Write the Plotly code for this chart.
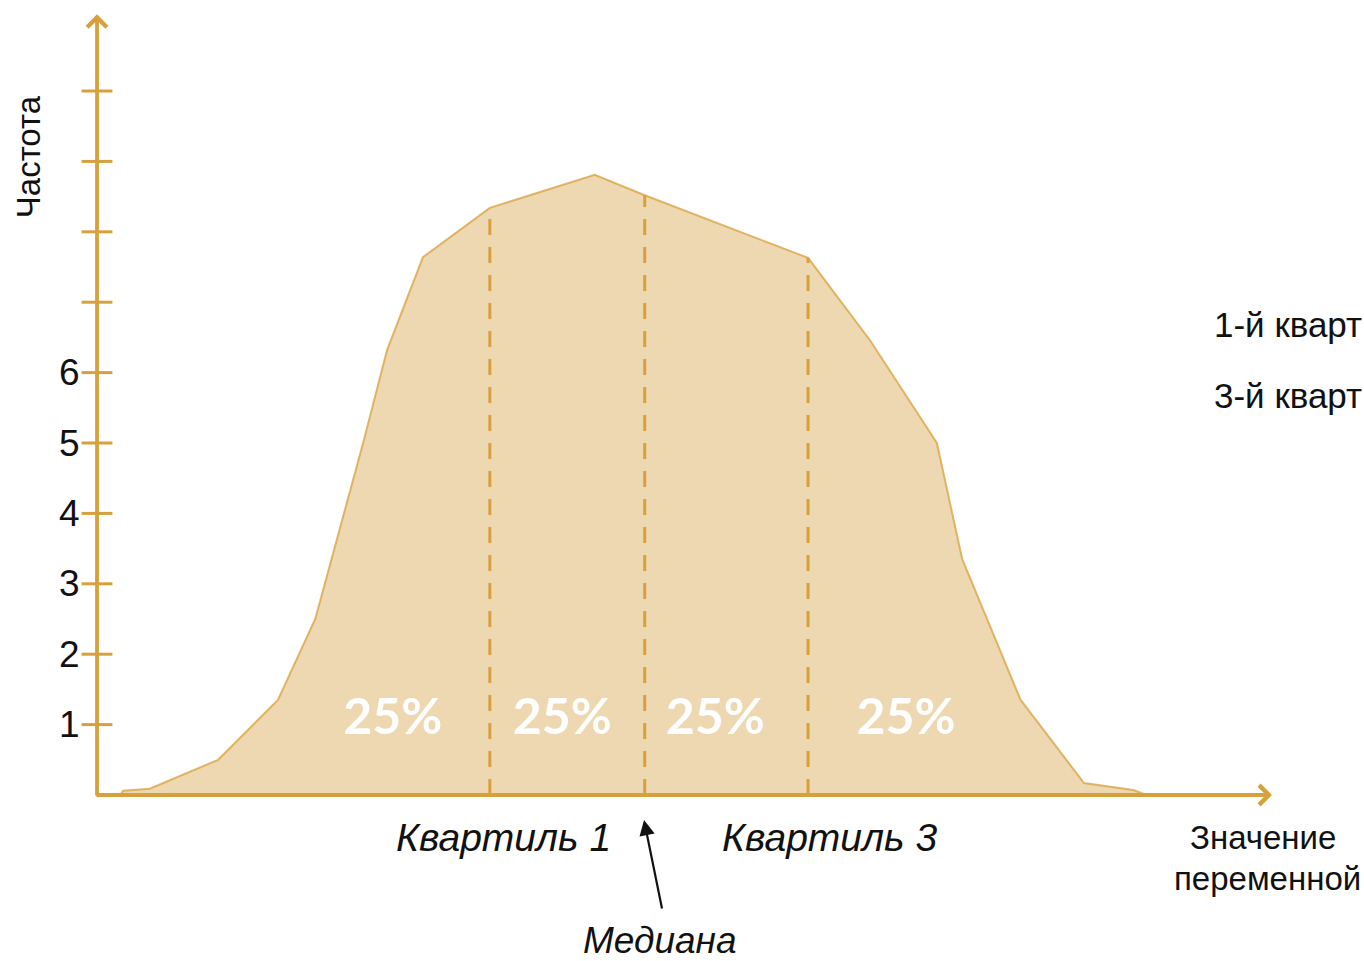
import plotly.graph_objects as go

# ---- data ----
curve_x = [0.33, 0.37, 0.75, 1.72, 2.57, 3.10, 3.78, 4.12, 4.63, 5.58, 7.07, 7.78,
           10.10, 10.98, 11.93, 12.29, 13.12, 14.02, 14.72, 14.91]
curve_y = [0.00, 0.06, 0.09, 0.50, 1.35, 2.50, 5.00, 6.32, 7.64, 8.34, 8.81, 8.52,
           7.63, 6.46, 5.00, 3.35, 1.35, 0.17, 0.07, 0.00]

quartile_x = [5.58, 7.78, 10.10]          # Q1, median, Q3
quartile_top = [8.34, 8.52, 7.63]

share_labels = ["25%", "25%", "25%", "25%"]
share_x = [4.20, 6.61, 8.78, 11.49]
share_y = 1.04

tick_vals = [1, 2, 3, 4, 5, 6, 7, 8, 9, 10]
tick_labels = ["1", "2", "3", "4", "5", "6"]

# visible part of the side notes (the reference cuts them at the image edge)
notes = ["1-й кварт", "3-й кварт"]
notes_y = [6.68, 5.68]

x_range = [-1.378, 17.997]
y_range = [-2.358, 11.293]
x_axis_end = 16.69
y_axis_end = 11.09

GOLD = "#D8A03C"
FILL = "#EDD8B1"
TEXT = "#111111"

fig = go.Figure()

# distribution shape
fig.add_trace(go.Scatter(
    x=curve_x, y=curve_y, mode="lines", fill="toself", fillcolor=FILL,
    line=dict(color="rgba(216,160,60,0.75)", width=2), hoverinfo="skip"))

# quartile dashed lines
for qx, qt in zip(quartile_x, quartile_top):
    fig.add_trace(go.Scatter(
        x=[qx, qx], y=[0, qt], mode="lines",
        line=dict(color=GOLD, width=3, dash="16px,12px"), hoverinfo="skip"))

# crossing ticks on the vertical axis
fig.add_trace(go.Scatter(
    x=[0] * len(tick_vals), y=tick_vals, mode="markers",
    marker=dict(symbol="line-ew", size=22, line=dict(color=GOLD, width=3)),
    hoverinfo="skip"))

# 25% labels
fig.add_trace(go.Scatter(
    x=share_x, y=[share_y] * len(share_x), mode="text", text=share_labels,
    textfont=dict(family="Lato", size=50, color="white", weight="bold"),
    hoverinfo="skip"))

ann = []
# axes with open arrowheads
ann.append(dict(x=x_axis_end, y=0, ax=-0.03, ay=0, xref="x", yref="y",
                axref="x", ayref="y", text="", showarrow=True, arrowhead=4,
                arrowsize=1, arrowwidth=3.8, arrowcolor=GOLD))
ann.append(dict(x=0, y=y_axis_end, ax=0, ay=-0.03, xref="x", yref="y",
                axref="x", ayref="y", text="", showarrow=True, arrowhead=4,
                arrowsize=1, arrowwidth=3.8, arrowcolor=GOLD))

# y tick labels
for i, t in enumerate(tick_labels):
    ann.append(dict(x=-0.213, y=tick_vals[i], xref="x", yref="y", text=t,
                    showarrow=False, xanchor="right", yanchor="middle",
                    font=dict(family="Liberation Sans", size=37, color=TEXT)))

# axis titles
ann.append(dict(x=-0.98, y=9.06, xref="x", yref="y", text="Частота",
                showarrow=False, textangle=-90,
                font=dict(family="Liberation Sans", size=33, color=TEXT)))
ann.append(dict(x=16.56, y=-0.61, xref="x", yref="y", text="Значение",
                showarrow=False, xanchor="center", yanchor="middle",
                font=dict(family="Liberation Sans", size=33, color=TEXT)))
ann.append(dict(x=16.62, y=-1.18, xref="x", yref="y", text="переменной",
                showarrow=False, xanchor="center", yanchor="middle",
                font=dict(family="Liberation Sans", size=33, color=TEXT)))

# quartile labels
ann.append(dict(x=5.77, y=-0.61, xref="x", yref="y", text="<i>Квартиль 1</i>",
                showarrow=False, font=dict(family="Liberation Sans", size=39, color=TEXT)))
ann.append(dict(x=10.41, y=-0.61, xref="x", yref="y", text="<i>Квартиль 3</i>",
                showarrow=False, font=dict(family="Liberation Sans", size=39, color=TEXT)))
ann.append(dict(x=8.00, y=-2.07, xref="x", yref="y", text="<i>Медиана</i>",
                showarrow=False, font=dict(family="Liberation Sans", size=37, color=TEXT)))

# median arrow
ann.append(dict(x=7.77, y=-0.355, ax=8.03, ay=-1.634, xref="x", yref="y",
                axref="x", ayref="y", text="", showarrow=True, arrowhead=2,
                arrowsize=1.4, arrowwidth=2.2, arrowcolor="#111111"))

# right-hand notes
for t, ny in zip(notes, notes_y):
    ann.append(dict(x=15.84, y=ny, xref="x", yref="y", text=t,
                    showarrow=False, xanchor="left", yanchor="middle",
                    font=dict(family="Liberation Sans", size=35, color=TEXT)))

fig.update_layout(
    width=1364, height=961,
    margin=dict(l=0, r=0, t=0, b=0),
    paper_bgcolor="white", plot_bgcolor="white",
    showlegend=False,
    xaxis=dict(range=x_range, visible=False, fixedrange=True),
    yaxis=dict(range=y_range, visible=False, fixedrange=True),
    annotations=ann,
)

fig.write_html(
    "out.html",
    config={"displayModeBar": False, "staticPlot": True},
    post_script="document.body.style.margin='0';document.body.style.overflow='hidden';",
)
